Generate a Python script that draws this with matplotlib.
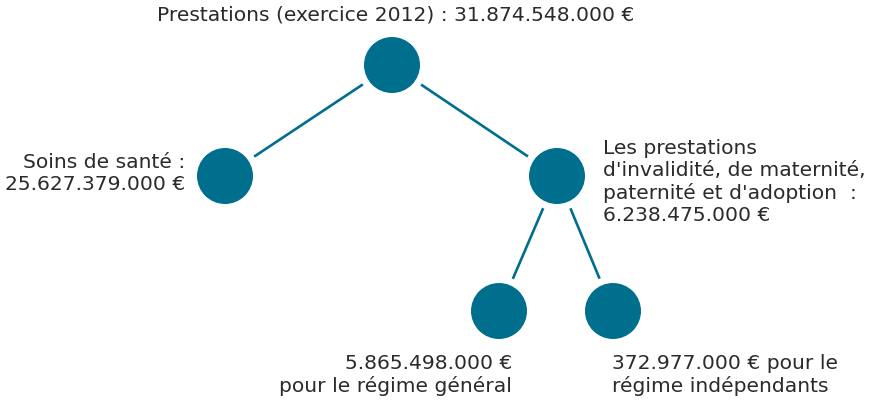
import matplotlib.pyplot as plt
import numpy as np

teal = '#006f8e'
txt = '#2b2b2b'

# tree data
labels = ['Prestations (exercice 2012) : {} €',
          'Soins de santé :\n{} €',
          "Les prestations\nd'invalidité, de maternité,\npaternité et d'adoption  :\n{} €",
          '{} €\npour le régime général',
          '{} € pour le\nrégime indépendants']
values = [31874548000, 25627379000, 6238475000, 5865498000, 372977000]
parents = [None, 0, 0, 2, 2]

# layout (pixel coords, y down)
centers = [(392, 66), (225, 177), (557, 177), (499, 312), (613, 312)]
label_pos = [(396, 15, 'center', 'center'),
             (185, 174, 'right', 'center'),
             (603, 182, 'left', 'center'),
             (512, 375, 'right', 'center'),
             (612, 375, 'left', 'center')]
radius = 28
gap = 35


def fmt(v):
    return f'{v:,}'.replace(',', '.')


fig = plt.figure(figsize=(8.79, 4.06), dpi=100)
ax = fig.add_axes([0, 0, 1, 1])
ax.set_xlim(0, 879)
ax.set_ylim(406, 0)
ax.axis('off')

for i, p in enumerate(parents):
    if p is None:
        continue
    x0, y0 = centers[p]
    x1, y1 = centers[i]
    d = np.hypot(x1 - x0, y1 - y0)
    ux, uy = (x1 - x0) / d, (y1 - y0) / d
    ax.plot([x0 + ux * gap, x1 - ux * gap], [y0 + uy * gap, y1 - uy * gap],
            color=teal, lw=1.9, solid_capstyle='butt')

for (cx, cy) in centers:
    ax.add_patch(plt.Circle((cx, cy), radius, color=teal, lw=0))

for lab, v, (tx, ty, ha, va) in zip(labels, values, label_pos):
    ax.text(tx, ty, lab.format(fmt(v)), ha=ha, va=va, color=txt,
            fontsize=14.6, family='DejaVu Sans', linespacing=1.2,
            multialignment=ha if ha != 'center' else 'center')

plt.savefig('out.png', dpi=100)
